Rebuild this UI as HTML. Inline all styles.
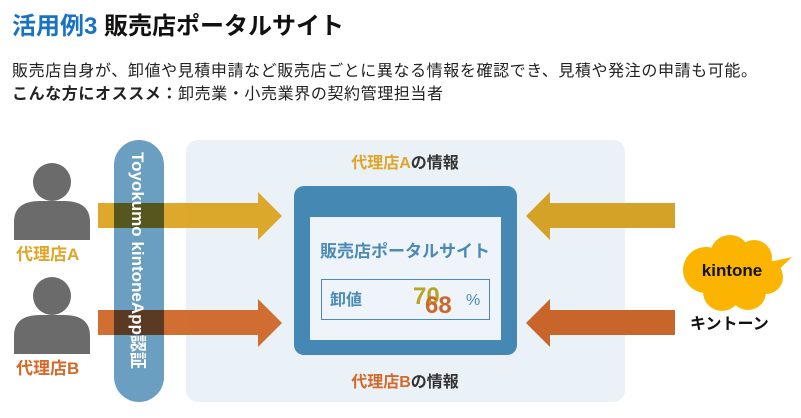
<!DOCTYPE html>
<html><head><meta charset="utf-8"><style>
body{margin:0;width:801px;height:418px;background:#fff;position:relative;overflow:hidden;font-family:"Liberation Sans","Noto Sans CJK JP",sans-serif;}
.a{position:absolute;white-space:nowrap;}
</style></head><body>
<div class="a" style="left:12px;top:12px;font-size:24px;font-weight:bold;color:#111;line-height:30px;"><span style="color:#1a72c4">活用例3</span> 販売店ポータルサイト</div>
<div class="a" style="left:12px;top:62px;font-size:16px;letter-spacing:0.6px;color:#222;line-height:20px;">販売店自身が、卸値や見積申請など販売店ごとに異なる情報を確認でき、見積や発注の申請も可能。</div>
<div class="a" style="left:12px;top:85px;font-size:16px;letter-spacing:0.6px;color:#222;line-height:20px;"><b>こんな方にオススメ：</b>卸売業・小売業界の契約管理担当者</div>
<svg class="a" style="left:0;top:0" width="801" height="418" font-family="Liberation Sans, Noto Sans CJK JP, sans-serif">
<rect x="186" y="140" width="439" height="262" rx="12" fill="#eaf2f8"/>
<rect x="114" y="140" width="50" height="262" rx="25" fill="#6a9fc2"/>
<!-- people -->
<circle cx="52" cy="182" r="19" fill="#6b6b6b"/>
<path d="M14 240 V222 Q14 201 40 201 H64 Q90 201 90 222 V240Z" fill="#6b6b6b"/>
<circle cx="52" cy="296" r="19" fill="#6b6b6b"/>
<path d="M14 354 V336 Q14 315 40 315 H64 Q90 315 90 336 V354Z" fill="#6b6b6b"/>
<text x="16" y="260" font-size="17" font-weight="bold" fill="#e0a528">代理店A</text>
<text x="16" y="374" font-size="17" font-weight="bold" fill="#d4692a">代理店B</text>
<!-- arrows left -->
<path d="M98 203 H258 V192 L282 216 L258 240 V228 H98Z" fill="#dba321" opacity="0.95"/>
<rect x="114" y="203" width="50" height="25" fill="#56561f"/>
<path d="M98 310 H258 V299 L282 323 L258 347 V335 H98Z" fill="#cf6626" opacity="0.95"/>
<rect x="114" y="310" width="50" height="25" fill="#5a3a22"/>
<text transform="translate(132,152) rotate(90)" font-size="17" font-weight="bold" fill="#fff">Toyokumo kintoneApp認証</text>
<!-- arrows right -->
<path d="M675 203 H550 V192 L526 216 L550 240 V228 H675Z" fill="#d5a228"/>
<path d="M675 310 H550 V299 L526 323 L550 347 V335 H675Z" fill="#c8652a"/>
<!-- monitor -->
<rect x="294" y="186" width="223" height="169" rx="10" fill="#4588b3"/>
<rect x="310" y="217" width="191" height="123" fill="#eef4f9"/>
<text x="405" y="257" font-size="17" font-weight="bold" fill="#4a8ab5" text-anchor="middle">販売店ポータルサイト</text>
<rect x="321.5" y="279.5" width="168" height="40" fill="none" stroke="#4a8ab5" stroke-width="1"/>
<text x="330" y="305" font-size="16" font-weight="bold" fill="#4a8ab5">卸値</text>
<text x="413" y="304" font-size="24" font-weight="bold" fill="#b9a425">70</text>
<text x="425" y="313" font-size="24" font-weight="bold" fill="#c96a2c">68</text>
<text x="466" y="305" font-size="16" fill="#4a8ab5">%</text>
<text x="405" y="168" font-size="16" font-weight="bold" fill="#333" text-anchor="middle"><tspan fill="#e0a528">代理店A</tspan>の情報</text>
<text x="405" y="387" font-size="16" font-weight="bold" fill="#333" text-anchor="middle"><tspan fill="#d4692a">代理店B</tspan>の情報</text>
<!-- cloud -->
<g fill="#fbb500">
<circle cx="706" cy="270" r="23"/><circle cx="730" cy="255" r="20"/><circle cx="754" cy="258" r="18"/>
<circle cx="766" cy="277" r="17"/><circle cx="748" cy="292" r="18"/><circle cx="722" cy="292" r="19"/>
<ellipse cx="736" cy="274" rx="30" ry="22"/>
<path d="M760 264 L792 257 L770 278Z"/>
</g>
<text x="732" y="276" font-size="17" font-weight="bold" fill="#111" text-anchor="middle">kintone</text>
<text x="690" y="329" font-size="16" font-weight="bold" fill="#111">キントーン</text>
</svg>
</body></html>
